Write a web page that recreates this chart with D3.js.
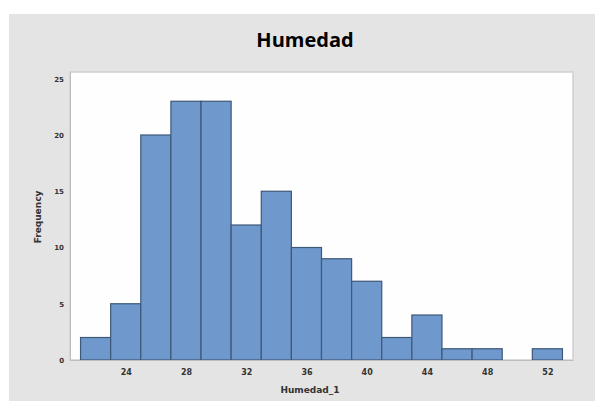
<html>
<head>
  <meta charset="UTF-8">
  <script src="https://d3js.org/d3.v7.min.js"></script>
  <style>
    body { margin: 0; background: #fff; }
  </style>
</head>
<body>
  <svg id="chart" width="595" height="401"></svg>
  <script>
    // Histogram data (bin centers and counts, bin width 2)
    const binCenters = [22, 24, 26, 28, 30, 32, 34, 36, 38, 40, 42, 44, 46, 48, 50, 52];
    const counts = [2, 5, 20, 23, 23, 12, 15, 10, 9, 7, 2, 4, 1, 1, 0, 1];
    const binWidth = 2;
    const xTicks = [24, 28, 32, 36, 40, 44, 48, 52];
    const yTicks = [0, 5, 10, 15, 20, 25];

    const svg = d3.select("#chart");

    // outer gray panel
    svg.append("rect")
      .attr("x", 9).attr("y", 14)
      .attr("width", 586).attr("height", 387)
      .attr("fill", "#e4e4e4");

    // plot area
    const plotLeft = 70, plotRight = 573, plotTop = 72, plotBottom = 360;

    const x = d3.scaleLinear()
      .domain([20.3, 53.7])
      .range([plotLeft, plotRight]);

    const y = d3.scaleLinear()
      .domain([0, 25.6])
      .range([plotBottom, plotTop]);

    svg.append("rect")
      .attr("x", plotLeft).attr("y", plotTop)
      .attr("width", plotRight - plotLeft).attr("height", plotBottom - plotTop)
      .attr("fill", "#fefefe")
      .attr("stroke", "#cfcfcf")
      .attr("stroke-width", 1.5);

    // bars
    svg.append("g")
      .selectAll("rect")
      .data(binCenters)
      .join("rect")
      .attr("x", d => x(d - binWidth / 2))
      .attr("y", (d, i) => y(counts[i]))
      .attr("width", d => x(d + binWidth / 2) - x(d - binWidth / 2))
      .attr("height", (d, i) => y(0) - y(counts[i]))
      .attr("fill", "#6f98cc")
      .attr("stroke", "#3e5878")
      .attr("stroke-width", 1.2);

    // X axis
    svg.append("g")
      .attr("transform", "translate(0," + plotBottom + ")")
      .call(d3.axisBottom(x).tickValues(xTicks).tickSize(0).tickPadding(9))
      .call(g => g.select(".domain").attr("stroke", "#bdbdbd"))
      .call(g => g.selectAll("text")
        .attr("font-family", "DejaVu Sans")
        .attr("font-size", 8)
        .attr("font-weight", "bold")
        .attr("fill", "#333"));

    // Y axis
    svg.append("g")
      .attr("transform", "translate(" + plotLeft + ",0)")
      .call(d3.axisLeft(y).tickValues(yTicks).tickSize(0).tickPadding(6))
      .call(g => g.select(".domain").attr("stroke", "#bdbdbd"))
      .call(g => g.selectAll("text")
        .attr("font-family", "DejaVu Sans")
        .attr("font-size", 7)
        .attr("font-weight", "bold")
        .attr("fill", "#333"));

    // title
    svg.append("text")
      .attr("x", 305).attr("y", 47)
      .attr("text-anchor", "middle")
      .attr("font-family", "Open Sans")
      .attr("font-size", 20)
      .attr("font-weight", "bold")
      .attr("fill", "#000")
      .text("Humedad");

    // axis labels
    svg.append("text")
      .attr("x", 310).attr("y", 393)
      .attr("text-anchor", "middle")
      .attr("font-family", "DejaVu Sans")
      .attr("font-size", 9)
      .attr("font-weight", "bold")
      .attr("fill", "#333")
      .text("Humedad_1");

    svg.append("text")
      .attr("transform", "translate(41,217) rotate(-90)")
      .attr("text-anchor", "middle")
      .attr("font-family", "DejaVu Sans")
      .attr("font-size", 9)
      .attr("font-weight", "bold")
      .attr("fill", "#333")
      .text("Frequency");
  </script>
</body>
</html>
